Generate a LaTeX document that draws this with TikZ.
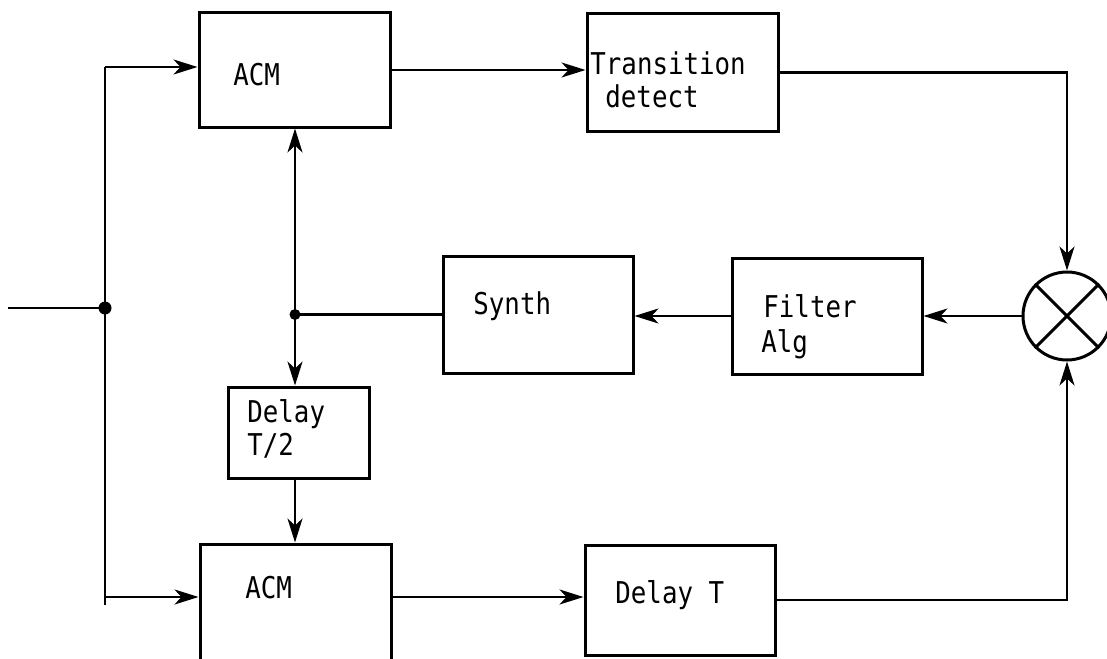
\documentclass[tikz,border=0pt]{standalone}
\usepackage{fontspec}
\newfontfamily\monofont[FakeStretch=0.86]{DejaVu Sans Mono}
\usetikzlibrary{arrows.meta}
\begin{document}
\begin{tikzpicture}[x=0.5pt,y=-0.5pt,
  box/.style={draw,line width=1.5pt,rectangle,inner sep=0pt},
  lbl/.style={anchor=base west,inner sep=0pt,font=\monofont\fontsize{15pt}{17pt}\selectfont},
  wire/.style={line width=1.3pt},
  arr/.style={wire,-{Stealth[length=12pt,width=7.5pt,inset=3.5pt]}},
  dot/.style={circle,fill,inner sep=0pt,minimum size=5pt}]
\useasboundingbox (0,0) rectangle (1107,658);
% boxes
\node[box,minimum width=95.5pt,minimum height=57pt] (acm1) at (294.5,70) {};
\node[box,minimum width=95.5pt,minimum height=58.5pt] (trans) at (682.5,72.5) {};
\node[box,minimum width=95pt,minimum height=58.5pt] (synth) at (538,314.5) {};
\node[box,minimum width=95pt,minimum height=58pt] (filt) at (827,316) {};
\node[box,minimum width=70.5pt,minimum height=45.5pt] (d2) at (298.5,432.5) {};
\node[box,minimum width=95.5pt,minimum height=88pt] (acm2) at (295.5,632) {};
\node[box,minimum width=95pt,minimum height=55pt] (delT) at (680,600) {};
\node[draw,line width=1.5pt,circle,minimum size=44pt,inner sep=0pt] (mix) at (1067,316) {};
\draw[line width=1.5pt] (mix.north west) -- (mix.south east) (mix.north east) -- (mix.south west);
% labels
\node[lbl] (tacm1) at (233,86) {ACM};
\node[lbl] (ttr1) at (590,75) {Transition};
\node[lbl] (ttr2) at (605,107) {detect};
\node[lbl] (tsyn) at (473,314) {Synth};
\node[lbl] (tfi1) at (763,317) {Filter};
\node[lbl] (tfi2) at (761,352) {Alg};
\node[lbl] (td1) at (247,422) {Delay};
\node[lbl] (td2) at (247,455) {T/2};
\node[lbl] (tacm2) at (245,598) {ACM};
\node[lbl] (tdel) at (615,603) {Delay T};
% junctions and coordinates
\coordinate (inL) at (8,308);
\node[dot,minimum size=6.5pt] (j1) at (105,308) {};
\coordinate (t1) at (105,67);
\coordinate (bb) at (105,597);
\coordinate (b1) at (105,605);
\node[dot,minimum size=5.5pt] (j2) at (295,314.5) {};
% connectors
\draw[wire] (inL) -- (j1.center);
\draw[wire] (t1) -- (b1);
\draw[arr] (t1) -- (t1 -| acm1.west);
\draw[arr] (bb) -- (bb -| acm2.west);
\draw[arr] (acm1.east) -- (acm1.east -| trans.west);
\draw[arr] (trans.east) -| (mix.north);
\draw[arr] (delT.east) -| (mix.south);
\draw[arr] (acm2.east |- bb) -- (bb -| delT.west);
\draw[arr] (mix.west) -- (filt.east);
\draw[arr] (filt.west) -- (filt.west -| synth.east);
\draw[wire] (synth.west) -- (j2.center);
\draw[arr] (j2.center) -- (j2 |- acm1.south);
\draw[arr] (j2.center) -- (j2 |- d2.north);
\draw[arr] (d2.south -| j2) -- (j2 |- acm2.north);
\end{tikzpicture}
\end{document}
